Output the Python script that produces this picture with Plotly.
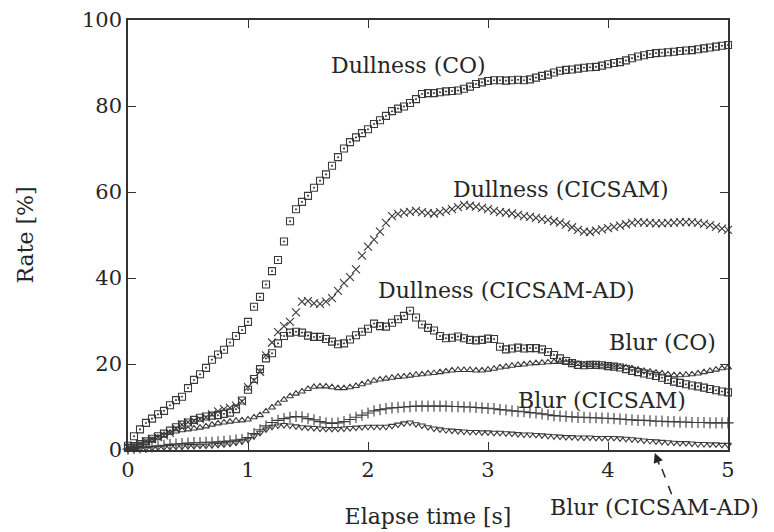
import plotly.graph_objects as go

# sampling times [s]
time_s = [round(i * 0.05, 2) for i in range(101)]

dullness_co = [
    1.0, 3.2, 4.8, 6.3, 7.3, 8.3, 9.1, 10.4, 11.6, 12.4,
    14.4, 16.3, 17.6, 19.1, 21.0, 22.2, 23.3, 25.0, 26.5, 27.9,
    29.8, 33.3, 35.6, 38.5, 41.6, 44.2, 48.5, 53.2, 56.0, 57.7,
    59.1, 61.0, 62.6, 64.1, 66.1, 68.1, 70.1, 71.6, 72.7, 73.7,
    74.6, 75.8, 76.7, 77.7, 78.8, 79.4, 79.9, 80.7, 81.6, 82.8,
    83.0, 83.0, 83.2, 83.4, 83.5, 83.6, 84.0, 84.5, 85.1, 85.5,
    85.8, 86.0, 86.0, 85.9, 86.0, 86.1, 86.0, 86.2, 86.6, 87.0,
    87.3, 87.8, 88.2, 88.4, 88.5, 88.7, 88.9, 89.0, 89.1, 89.4,
    89.7, 90.0, 90.2, 90.6, 91.1, 91.5, 91.8, 92.1, 92.3, 92.4,
    92.5, 92.6, 92.8, 92.9, 93.0, 93.2, 93.4, 93.6, 93.8, 94.0,
    94.2,
]

dullness_cicsam = [
    0.5, 1.0, 1.5, 2.0, 2.5, 3.0, 3.4, 4.0, 5.0, 5.9,
    6.5, 6.8, 7.2, 7.6, 8.3, 9.0, 9.5, 9.8, 10.3, 11.3,
    14.6, 16.2, 18.2, 22.0, 25.0, 27.4, 28.8, 29.8, 32.0, 34.5,
    34.6, 34.1, 34.0, 34.5, 35.3, 37.0, 38.8, 40.2, 42.0, 45.2,
    47.3, 48.9, 50.8, 52.8, 54.4, 54.9, 55.2, 55.4, 55.6, 55.3,
    55.1, 55.0, 55.3, 55.6, 56.0, 56.5, 57.0, 56.8, 56.6, 56.3,
    56.0, 55.6, 55.3, 55.2, 55.0, 54.7, 54.4, 54.2, 54.0, 53.7,
    53.5, 53.2, 52.9, 52.4, 51.8, 51.2, 50.8, 50.7, 51.0, 51.3,
    51.6, 51.9, 52.2, 52.5, 52.8, 53.0, 52.9, 52.8, 52.7, 52.7,
    52.8, 52.9, 53.0, 53.0, 53.0, 52.8, 52.6, 52.3, 51.9, 51.5,
    51.2,
]

dullness_cicsam_ad = [
    0.5, 0.9, 1.4, 2.0, 2.6, 3.2, 3.8, 4.5, 5.3, 5.9,
    6.4, 7.0, 7.5, 7.8, 8.0, 8.1, 8.4, 8.7, 9.5, 11.5,
    14.0, 16.5, 18.8, 21.3, 22.5, 24.8, 26.5, 27.3, 27.5, 27.3,
    26.6, 26.3, 26.3, 25.8, 25.2, 24.6, 24.8, 25.7, 26.7, 27.5,
    28.2, 29.4, 28.8, 28.7, 29.6, 30.4, 31.2, 32.4, 30.8, 29.2,
    28.4, 27.8, 26.5, 26.0, 26.1, 26.4, 26.0, 25.6, 25.5, 25.6,
    25.9, 25.8, 24.0, 23.4, 23.6, 23.8, 23.6, 23.7, 23.7, 23.4,
    22.8, 22.1, 21.3, 20.7, 20.2, 19.8, 19.7, 19.8, 19.8, 19.7,
    19.5, 19.4, 19.2, 18.8, 18.4, 18.1, 17.8, 17.5, 17.2, 16.8,
    16.3, 15.9, 15.6, 15.3, 15.0, 14.8, 14.5, 14.2, 13.9, 13.6,
    13.4,
]

blur_co = [
    0.3, 0.7, 1.2, 1.7, 2.3, 2.9, 3.5, 4.0, 4.3, 4.6,
    4.8, 5.0, 5.2, 5.5, 5.9, 6.2, 6.4, 6.6, 6.8, 6.9,
    7.1, 7.6, 8.1, 9.0, 9.9, 10.8, 11.7, 12.5, 13.1, 13.6,
    14.2, 14.7, 14.8, 14.8, 14.6, 14.4, 14.4, 14.6, 14.9, 15.3,
    15.7, 16.1, 16.4, 16.6, 16.8, 17.0, 17.1, 17.3, 17.5, 17.6,
    17.8, 17.9, 18.1, 18.3, 18.5, 18.6, 18.6, 18.6, 18.5, 18.5,
    18.7, 18.9, 19.2, 19.4, 19.6, 19.8, 19.9, 20.1, 20.2, 20.3,
    20.4, 20.5, 20.5, 20.4, 20.2, 20.0, 19.8, 19.8, 19.7, 19.6,
    19.5, 19.4, 19.3, 19.2, 19.0, 18.7, 18.4, 18.2, 18.0, 17.8,
    17.6, 17.4, 17.4, 17.5, 17.6, 17.8, 18.1, 18.4, 18.7, 19.0,
    19.2,
]

blur_cicsam = [
    0.2, 0.4, 0.5, 0.6, 0.7, 0.9, 1.1, 1.3, 1.4, 1.5,
    1.6, 1.7, 1.7, 1.8, 1.8, 1.9, 2.0, 2.1, 2.3, 2.5,
    2.9, 3.8, 4.7, 5.6, 6.4, 6.9, 7.3, 7.6, 7.8, 7.7,
    7.3, 7.0, 6.6, 6.3, 6.2, 6.3, 6.6, 7.1, 7.6, 8.1,
    8.6, 9.1, 9.4, 9.6, 9.8, 9.9, 10.0, 10.1, 10.2, 10.2,
    10.2, 10.2, 10.2, 10.2, 10.1, 10.1, 10.0, 10.0, 9.9, 9.8,
    9.7, 9.6, 9.4, 9.3, 9.1, 9.0, 8.9, 8.7, 8.6, 8.4,
    8.2, 8.0, 7.9, 7.8, 7.7, 7.6, 7.6, 7.5, 7.5, 7.4,
    7.4, 7.3, 7.2, 7.1, 7.0, 6.9, 6.9, 6.8, 6.7, 6.7,
    6.6, 6.6, 6.5, 6.5, 6.4, 6.4, 6.4, 6.3, 6.3, 6.3,
    6.3,
]

blur_cicsam_ad = [
    0.1, 0.2, 0.3, 0.4, 0.5, 0.6, 0.6, 0.7, 0.8, 0.8,
    0.9, 0.9, 1.0, 1.0, 1.1, 1.2, 1.3, 1.5, 1.7, 2.0,
    2.4, 3.2, 4.0, 4.8, 5.4, 5.7, 5.8, 5.7, 5.5, 5.3,
    5.2, 5.1, 5.0, 4.9, 4.9, 4.9, 5.0, 5.1, 5.2, 5.3,
    5.4, 5.4, 5.4, 5.4, 5.6, 5.9, 6.2, 6.4, 6.0, 5.7,
    5.3, 5.0, 4.8, 4.6, 4.5, 4.4, 4.3, 4.2, 4.2, 4.1,
    4.1, 4.0, 4.0, 3.9, 3.8, 3.7, 3.6, 3.6, 3.5, 3.4,
    3.3, 3.2, 3.1, 3.0, 3.0, 2.9, 2.9, 2.9, 2.8, 2.8,
    2.8, 2.8, 2.7, 2.6, 2.5, 2.4, 2.2, 2.1, 2.0, 1.9,
    1.8, 1.7, 1.6, 1.6, 1.5, 1.4, 1.4, 1.3, 1.3, 1.2,
    1.2,
]

x_ticks = [0, 1, 2, 3, 4, 5]
y_ticks = [0, 20, 40, 60, 80, 100]

FONT = "DejaVu Serif"
INK = "#262626"
MARK = "#3a3a3a"

series = [
    ("Dullness (CO)", dullness_co, "square-open-dot", 7),
    ("Dullness (CICSAM)", dullness_cicsam, "x-thin-open", 8),
    ("Dullness (CICSAM-AD)", dullness_cicsam_ad, "square-open-dot", 7),
    ("Blur (CO)", blur_co, "triangle-up-open", 6),
    ("Blur (CICSAM)", blur_cicsam, "cross-thin-open", 8),
    ("Blur (CICSAM-AD)", blur_cicsam_ad, "triangle-down-open", 6),
]

fig = go.Figure()
for name, vals, sym, size in series:
    fig.add_trace(go.Scatter(
        x=time_s, y=vals, mode="markers", name=name,
        marker=dict(symbol=sym, size=size, color=MARK,
                    line=dict(width=1.1, color=MARK)),
        cliponaxis=False,
    ))

labels = [
    ("Dullness (CO)", 2.34, 89.5),
    ("Dullness (CICSAM)", 3.61, 60.5),
    ("Dullness (CICSAM-AD)", 3.15, 37.0),
    ("Blur (CO)", 4.45, 24.9),
    ("Blur (CICSAM)", 3.95, 11.6),
]
for text, tx, ty in labels:
    fig.add_annotation(x=tx, y=ty, xref="x", yref="y", text=text,
                       showarrow=False, xanchor="center", yanchor="middle",
                       font=dict(family=FONT, size=22, color=INK))

# label below the axis with a dashed pointer
fig.add_annotation(x=0.878, y=-0.133, xref="paper", yref="paper",
                   text="Blur (CICSAM-AD)", showarrow=False,
                   xanchor="center", yanchor="middle",
                   font=dict(family=FONT, size=22, color=INK))
fig.add_shape(type="line", xref="paper", yref="paper",
              x0=0.906, y0=-0.103, x1=0.882, y1=-0.015,
              line=dict(color=INK, width=1.5, dash="dash"))
fig.add_annotation(x=0.878, y=-0.007, xref="paper", yref="paper",
                   text="", showarrow=True, ax=5, ay=13,
                   arrowhead=2, arrowsize=1.3, arrowwidth=1.5,
                   arrowcolor=INK)

axis_common = dict(
    showgrid=False, zeroline=False, showline=True, mirror="ticks",
    linecolor="#333333", linewidth=1.5, ticks="inside", ticklen=8,
    tickwidth=1.3, tickcolor="#333333", automargin=False,
    tickfont=dict(family=FONT, size=21, color=INK),
)

fig.update_xaxes(range=[0, 5], tickvals=x_ticks,
                 ticktext=[str(v) for v in x_ticks],
                 title=dict(text="Elapse time [s]", standoff=28,
                            font=dict(family=FONT, size=22, color=INK)),
                 **axis_common)
fig.update_yaxes(range=[0, 100], tickvals=y_ticks,
                 ticktext=[str(v) for v in y_ticks],
                 title=dict(text="Rate [%]", standoff=42,
                            font=dict(family=FONT, size=22, color=INK)),
                 **axis_common)

fig.update_layout(
    width=774, height=532,
    margin=dict(l=128, r=46, t=20, b=82),
    plot_bgcolor="white", paper_bgcolor="white",
    showlegend=False,
    font=dict(family=FONT, color=INK),
)

fig.write_html("out.html")
